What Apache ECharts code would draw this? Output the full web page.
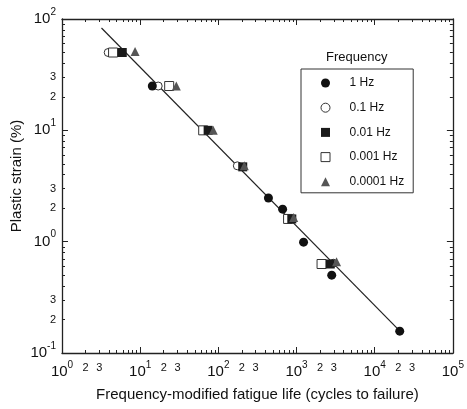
<!DOCTYPE html>
<html><head><meta charset="utf-8">
<script src="https://cdn.jsdelivr.net/npm/echarts@6/dist/echarts.min.js"></script>
<style>html,body{margin:0;padding:0;background:#fff}#c{width:467px;height:409px}</style>
</head><body><div id="c"></div>
<script>
// ---- data (raw values) ----
const freqNames = ['1 Hz', '0.1 Hz', '0.01 Hz', '0.001 Hz', '0.0001 Hz'];
const life1Hz = [14.3, 437, 664, 1230, 2820, 20900];
const strain1Hz = [25, 2.47, 1.96, 0.99, 0.50, 0.157];
const life01Hz = [3.9, 17, 175, 2950];
const strain01Hz = [50, 25, 4.8, 0.64];
const life001Hz = [5.9, 74, 205, 870, 2700];
const strain001Hz = [50, 10, 4.7, 1.6, 0.63];
const life0001Hz = [4.5, 23.5, 64, 780, 2090];
const strain0001Hz = [50, 25, 10, 1.6, 0.63];
const life00001Hz = [8.6, 29, 86, 215, 920, 3250];
const strain00001Hz = [51, 25, 10, 4.8, 1.65, 0.66];
const fitLife = [3.2, 21500];
const fitStrain = [83, 0.155];
const xDecadeExponents = [0, 1, 2, 3, 4, 5];
const yDecadeExponents = [-1, 0, 1, 2];
const minorLabelDigits = [2, 3];
const xTitle = 'Frequency-modified fatigue life (cycles to failure)';
const yTitle = 'Plastic strain (%)';
const legendTitle = 'Frequency';

// ---- helpers ----
const L = Math.log10;
const F = '"Liberation Sans", Arial, Helvetica, sans-serif';
const INK = '#111';
function pairs(xs, ys) { return xs.map((x, i) => [L(x), L(ys[i])]); }
function minorTicks(dec) { const r = []; for (let i = 0; i < dec.length - 1; i++) for (let k = 2; k <= 9; k++) r.push(dec[i] + L(k)); return r; }
function labelValues(dec) { const r = dec.slice(); for (let i = 0; i < dec.length - 1; i++) minorLabelDigits.forEach(k => r.push(dec[i] + L(k))); return r; }
function fmt(v) {
  const n = Math.round(v);
  if (Math.abs(v - n) < 1e-6) return '{b|10}{s|' + n + '}';
  const k = Math.round(Math.pow(10, v - Math.floor(v + 1e-9)));
  return '{m|' + k + '}';
}
const rich = {
  b: { fontSize: 15, fontFamily: F, color: INK, lineHeight: 24 },
  s: { fontSize: 10, fontFamily: F, color: INK, lineHeight: 10, verticalAlign: 'top' },
  m: { fontSize: 11, fontFamily: F, color: INK, lineHeight: 16 }
};
const lineStyle = { color: '#222', width: 1.3 };

function mkAxis(pos, dec, opts) {
  const a = {
    type: 'value', position: pos, min: dec[0], max: dec[dec.length - 1],
    splitLine: { show: false },
    axisLine: { show: opts.line, onZero: false, lineStyle: lineStyle },
    axisTick: { show: true, inside: true, length: opts.tickLen, customValues: opts.ticks, lineStyle: { color: '#222', width: 1 } },
    axisLabel: { show: false },
    nameMoveOverlap: false
  };
  if (opts.labels) {
    a.axisLabel = { show: true, customValues: labelValues(dec), formatter: fmt, rich: rich, margin: opts.margin, color: INK };
  }
  return a;
}

const xAxes = [
  Object.assign(mkAxis('bottom', xDecadeExponents, { line: true, tickLen: 6, ticks: xDecadeExponents, labels: true, margin: 7 }), {
    name: xTitle, nameLocation: 'middle', nameGap: 34,
    nameTextStyle: { fontSize: 15, fontFamily: F, color: INK }
  }),
  mkAxis('bottom', xDecadeExponents, { line: false, tickLen: 3, ticks: minorTicks(xDecadeExponents) }),
  mkAxis('top', xDecadeExponents, { line: true, tickLen: 6, ticks: xDecadeExponents }),
  mkAxis('top', xDecadeExponents, { line: false, tickLen: 3, ticks: minorTicks(xDecadeExponents) })
];
const yAxes = [
  Object.assign(mkAxis('left', yDecadeExponents, { line: true, tickLen: 6, ticks: yDecadeExponents, labels: true, margin: 6 }), {
    name: yTitle, nameLocation: 'middle', nameGap: 38, nameRotate: 90,
    nameTextStyle: { fontSize: 15, fontFamily: F, color: INK, padding: [0, 0, 0, 20] }
  }),
  mkAxis('left', yDecadeExponents, { line: false, tickLen: 3, ticks: minorTicks(yDecadeExponents) }),
  mkAxis('right', yDecadeExponents, { line: true, tickLen: 6, ticks: yDecadeExponents }),
  mkAxis('right', yDecadeExponents, { line: false, tickLen: 3, ticks: minorTicks(yDecadeExponents) })
];

function scatter(name, xs, ys, symbol, fill, border, size) {
  return {
    type: 'scatter', name: name, data: pairs(xs, ys), symbol: symbol, symbolSize: size,
    itemStyle: { color: fill, borderColor: border, borderWidth: border ? 1 : 0, opacity: 1 },
    emphasis: { disabled: true }, z: 3
  };
}

const series = [
  { type: 'line', name: 'fit', data: pairs(fitLife, fitStrain), showSymbol: false, symbol: 'none',
    lineStyle: { color: '#222', width: 1.2 }, silent: true, z: 2, animation: false },
  scatter(freqNames[1], life01Hz, strain01Hz, 'circle', '#fff', '#333', 8),
  scatter(freqNames[3], life0001Hz, strain0001Hz, 'rect', '#fff', '#333', 9),
  scatter(freqNames[0], life1Hz, strain1Hz, 'circle', '#111', null, 9),
  scatter(freqNames[2], life001Hz, strain001Hz, 'rect', '#1a1a1a', null, 9),
  scatter(freqNames[4], life00001Hz, strain00001Hz, 'triangle', '#555', null, 9)
];

const chart = echarts.init(document.getElementById('c'), null, { renderer: 'canvas' });
chart.setOption({
  animation: false,
  backgroundColor: '#fff',
  grid: { left: 62, right: 14, top: 19, bottom: 56, containLabel: false },
  xAxis: xAxes,
  yAxis: yAxes,
  legend: {
    data: freqNames, orient: 'vertical', left: 301, top: 69,
    padding: [8, 9, 5, 19.5], itemWidth: 9, itemHeight: 9, itemGap: 12.7,
    borderColor: '#333', borderWidth: 1, selectedMode: false,
    itemStyle: { borderWidth: 1 },
    textStyle: { fontSize: 12, fontFamily: F, color: INK, lineHeight: 12, padding: [0, 0, 0, 14.5] }
  },
  graphic: [{ type: 'text', left: 357 - 31, top: 51,
    style: { text: legendTitle, fontSize: 13, fontFamily: F, fill: INK } }],
  series: series
});
</script>
</body></html>
